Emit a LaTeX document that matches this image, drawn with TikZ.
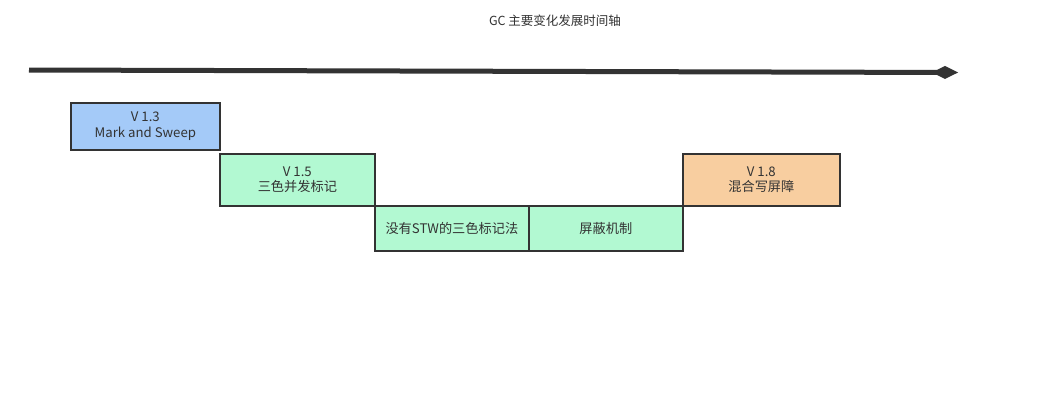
\documentclass[tikz,border=0pt]{standalone}
\usepackage{fontspec}
\setmainfont{Noto Sans CJK SC}
\usetikzlibrary{arrows.meta}
\definecolor{ink}{HTML}{333333}
\definecolor{blueA}{HTML}{A4CAF8}
\definecolor{greenA}{HTML}{B2F9D2}
\definecolor{orangeA}{HTML}{F8CEA0}
\begin{document}
\begin{tikzpicture}[x=1pt,y=-1pt,
  verbox/.style={draw=ink,line width=1.7pt,text=ink,font=\fontsize{13.2}{15.5}\selectfont,
    align=center,inner sep=0pt,anchor=north west},
  axisline/.style={draw=ink,line width=5pt,-{Diamond[length=26pt,width=13pt,line width=0pt]}}]
\useasboundingbox (0,0) rectangle (1049,407);
\fill[white] (0,0) rectangle (1049,407);
\node[text=ink,font=\fontsize{12.5}{14}\selectfont] (title) at (555,21) {GC 主要变化发展时间轴};
% timeline axis with a diamond tip
\coordinate (axs) at (29,70);
\coordinate (axe) at (958,72.5);
\draw[axisline] (axs) -- (axe);
\node[verbox,fill=blueA,minimum width=149pt,minimum height=47pt] (v13) at (70,102) {V 1.3\\Mark and Sweep};
\node[verbox,fill=greenA,minimum width=155pt,minimum height=52pt] (v15) at (219,153) {V 1.5\\三色并发标记};
\node[verbox,fill=greenA,minimum width=154pt,minimum height=45pt] (stw) at (374,205) {没有STW的三色标记法};
\node[verbox,fill=greenA,minimum width=154pt,minimum height=45pt] (mask) at (528,205) {屏蔽机制};
\node[verbox,fill=orangeA,minimum width=157pt,minimum height=52pt] (v18) at (682,153) {V 1.8\\混合写屏障};
\end{tikzpicture}
\end{document}
